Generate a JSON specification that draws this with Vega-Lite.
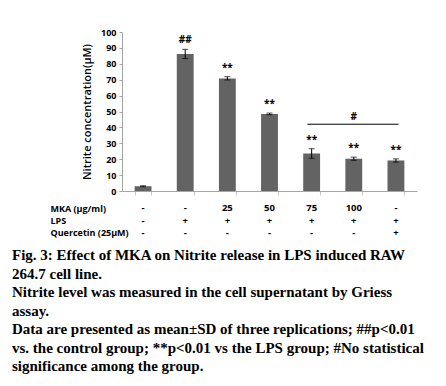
{
  "$schema": "https://vega.github.io/schema/vega-lite/v6.json",
  "padding": {"left": 12, "top": 28, "right": 5, "bottom": 5},
  "background": "white",
  "datasets": {
    "bars": [
      {"g": "c1", "mean": 3.0, "lo": 2.7, "hi": 3.3, "sig": ""},
      {"g": "c2", "mean": 86.2, "lo": 83.3, "hi": 89.1, "sig": "##"},
      {"g": "c3", "mean": 70.8, "lo": 69.8, "hi": 71.9, "sig": "**"},
      {"g": "c4", "mean": 48.5, "lo": 48.0, "hi": 49.0, "sig": "**"},
      {"g": "c5", "mean": 23.6, "lo": 20.6, "hi": 26.6, "sig": "**"},
      {"g": "c6", "mean": 20.3, "lo": 19.3, "hi": 21.3, "sig": "**"},
      {"g": "c7", "mean": 19.2, "lo": 18.2, "hi": 20.2, "sig": "**"}
    ],
    "bracket": [{"from": "c5", "mid": "c6", "to": "c7", "level": 42, "sig": "#"}],
    "table": [
      {"g": "c1", "row": "MKA (µg/ml)", "v": "-"},
      {"g": "c2", "row": "MKA (µg/ml)", "v": "-"},
      {"g": "c3", "row": "MKA (µg/ml)", "v": "25"},
      {"g": "c4", "row": "MKA (µg/ml)", "v": "50"},
      {"g": "c5", "row": "MKA (µg/ml)", "v": "75"},
      {"g": "c6", "row": "MKA (µg/ml)", "v": "100"},
      {"g": "c7", "row": "MKA (µg/ml)", "v": "-"},
      {"g": "c1", "row": "LPS", "v": "-"},
      {"g": "c2", "row": "LPS", "v": "+"},
      {"g": "c3", "row": "LPS", "v": "+"},
      {"g": "c4", "row": "LPS", "v": "+"},
      {"g": "c5", "row": "LPS", "v": "+"},
      {"g": "c6", "row": "LPS", "v": "+"},
      {"g": "c7", "row": "LPS", "v": "+"},
      {"g": "c1", "row": "Quercetin (25µM)", "v": "-"},
      {"g": "c2", "row": "Quercetin (25µM)", "v": "-"},
      {"g": "c3", "row": "Quercetin (25µM)", "v": "-"},
      {"g": "c4", "row": "Quercetin (25µM)", "v": "-"},
      {"g": "c5", "row": "Quercetin (25µM)", "v": "-"},
      {"g": "c6", "row": "Quercetin (25µM)", "v": "-"},
      {"g": "c7", "row": "Quercetin (25µM)", "v": "+"}
    ]
  },
  "title": {
    "text": [
      "Fig. 3: Effect of MKA on Nitrite release in LPS induced RAW",
      "264.7 cell line.",
      "Nitrite level was measured in the cell supernatant by Griess",
      "assay.",
      "Data are presented as mean±SD of three replications; ##p<0.01",
      "vs. the control group; **p<0.01 vs the LPS group; #No statistical",
      "significance among the group."
    ],
    "orient": "bottom",
    "anchor": "start",
    "dx": -38,
    "offset": 9,
    "font": "Liberation Serif",
    "fontWeight": "bold",
    "fontSize": 15,
    "lineHeight": 18.5,
    "color": "black"
  },
  "spacing": 6,
  "config": {
    "view": {"stroke": null},
    "font": "Open Sans",
    "axisQuantitative": {
      "tickCount": 10,
      "labelOverlap": false,
      "grid": false,
      "titleFont": "Open Sans",
      "titleFontSize": 11,
      "titleFontWeight": 600,
      "titleColor": "black",
      "titlePadding": 8,
      "labelFont": "Open Sans",
      "labelFontWeight": "bold",
      "labelFontSize": 9,
      "labelColor": "black",
      "labelPadding": 3,
      "domainColor": "#a6a6a6",
      "tickColor": "#a6a6a6",
      "tickSize": 3
    }
  },
  "vconcat": [
    {
      "width": 295,
      "height": 159,
      "data": {"name": "bars"},
      "encoding": {
        "x": {
          "field": "g", "type": "nominal", "sort": null,
          "scale": {"domain": ["c1","c2","c3","c4","c5","c6","c7"], "paddingInner": 0.6, "paddingOuter": 0.3},
          "axis": {"labels": false, "title": null, "domainColor": "#a6a6a6", "tickColor": "#c8c8c8", "tickBand": "extent", "tickSize": 4}
        }
      },
      "layer": [
        {
          "mark": {"type": "bar", "color": "#636363"},
          "encoding": {
            "y": {
              "field": "mean", "type": "quantitative",
              "scale": {"domain": [0, 100]},
              "title": "Nitrite concentration(µM)"
            }
          }
        },
        {
          "mark": {"type": "errorbar", "ticks": {"size": 6, "color": "black"}, "color": "black", "thickness": 1},
          "encoding": {
            "y": {"field": "lo", "type": "quantitative", "title": "Nitrite concentration(µM)"},
            "y2": {"field": "hi"}
          }
        },
        {
          "mark": {"type": "text", "baseline": "bottom", "dy": -4, "font": "Open Sans", "fontWeight": "bold", "fontSize": 10, "color": "black"},
          "encoding": {
            "y": {"field": "hi", "type": "quantitative", "title": "Nitrite concentration(µM)"},
            "text": {"field": "sig"}
          }
        },
        {
          "data": {"name": "bracket"},
          "mark": {"type": "rule", "color": "black", "strokeWidth": 1},
          "encoding": {
            "x": {"field": "from", "type": "nominal", "bandPosition": 0.25},
            "x2": {"field": "to", "bandPosition": 0.65},
            "y": {"field": "level", "type": "quantitative", "title": "Nitrite concentration(µM)"}
          }
        },
        {
          "data": {"name": "bracket"},
          "mark": {"type": "text", "baseline": "bottom", "dy": -2, "font": "Open Sans", "fontWeight": "bold", "fontSize": 10, "color": "black"},
          "encoding": {
            "x": {"field": "mid", "type": "nominal"},
            "y": {"field": "level", "type": "quantitative", "title": "Nitrite concentration(µM)"},
            "text": {"field": "sig"}
          }
        }
      ]
    },
    {
      "width": 295,
      "height": 37,
      "data": {"name": "table"},
      "mark": {"type": "text", "font": "Open Sans", "fontWeight": "bold", "fontSize": 9.5, "color": "black"},
      "encoding": {
        "x": {
          "field": "g", "type": "nominal", "sort": null,
          "scale": {"domain": ["c1","c2","c3","c4","c5","c6","c7"], "paddingInner": 0.6, "paddingOuter": 0.3},
          "axis": null
        },
        "y": {
          "field": "row", "type": "nominal",
          "sort": ["MKA (µg/ml)", "LPS", "Quercetin (25µM)"],
          "axis": {
            "title": null, "domain": false, "ticks": false,
            "labelAlign": "left", "labelPadding": 72,
            "labelFont": "Open Sans", "labelFontWeight": "bold", "labelFontSize": 9, "labelColor": "black"
          }
        },
        "text": {"field": "v"}
      }
    }
  ]
}
